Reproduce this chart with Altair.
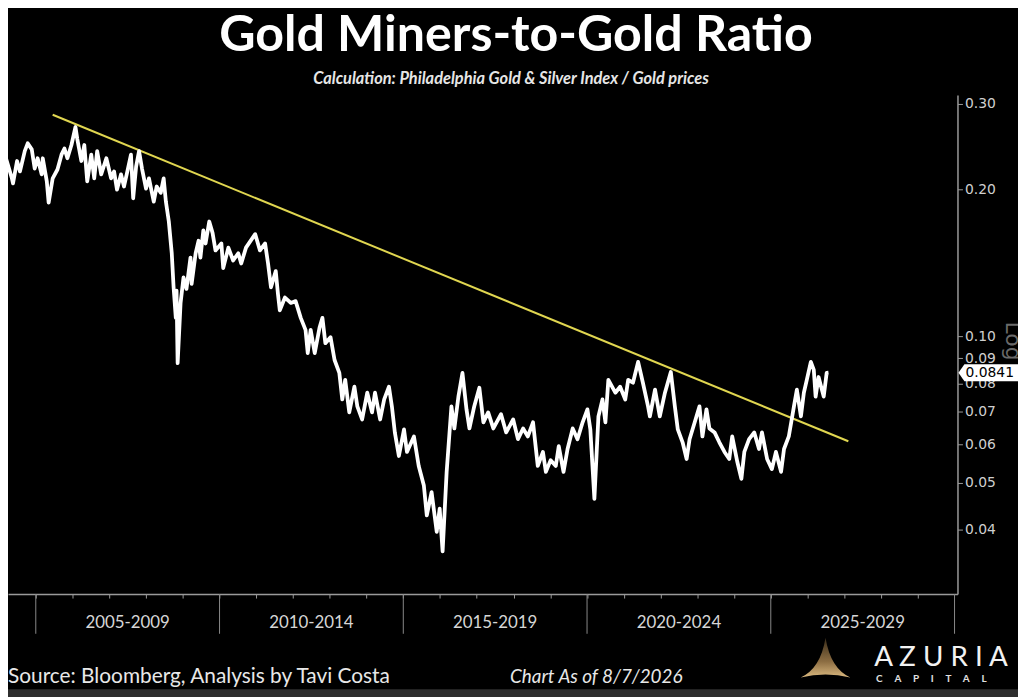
import altair as alt
import pandas as pd

# ---------------- data ----------------
years = [2004.08, 2004.16, 2004.35, 2004.38, 2004.49, 2004.57, 2004.70, 2004.78, 2004.89, 2004.97,
         2005.05, 2005.16, 2005.19, 2005.30, 2005.35, 2005.46, 2005.59, 2005.70, 2005.78, 2005.86, 2005.97,
         2006.08, 2006.13, 2006.24, 2006.32, 2006.40, 2006.51, 2006.59, 2006.67, 2006.78, 2006.92,
         2007.05, 2007.13, 2007.21, 2007.32, 2007.40, 2007.48, 2007.59, 2007.65, 2007.73, 2007.81, 2007.89,
         2008.00, 2008.08, 2008.21, 2008.29, 2008.40, 2008.48, 2008.54, 2008.62, 2008.70, 2008.75, 2008.81,
         2008.83, 2008.86, 2008.94,
         2009.02, 2009.10, 2009.21, 2009.24, 2009.35, 2009.43, 2009.48, 2009.56, 2009.62, 2009.72, 2009.81, 2009.89,
         2010.05, 2010.10, 2010.24, 2010.37, 2010.51, 2010.59, 2010.72, 2010.97,
         2011.10, 2011.24, 2011.32, 2011.40, 2011.53, 2011.59, 2011.64, 2011.78, 2011.94,
         2012.07, 2012.21, 2012.34, 2012.40, 2012.48, 2012.59, 2012.72, 2012.80, 2012.88,
         2013.02, 2013.13, 2013.26, 2013.34, 2013.42, 2013.53, 2013.67, 2013.75, 2013.88,
         2014.02, 2014.15, 2014.23, 2014.37, 2014.48, 2014.61, 2014.69, 2014.77, 2014.88,
         2015.02, 2015.10, 2015.29, 2015.42, 2015.56, 2015.64, 2015.77, 2015.91, 2015.99,
         2016.07, 2016.18, 2016.31, 2016.39, 2016.50, 2016.61, 2016.72, 2016.80, 2016.93,
         2017.07, 2017.18, 2017.31, 2017.45, 2017.66, 2017.80, 2017.99,
         2018.12, 2018.26, 2018.39, 2018.53, 2018.66, 2018.80, 2018.88,
         2019.01, 2019.15, 2019.23, 2019.36, 2019.47, 2019.61, 2019.74, 2019.88,
         2020.01, 2020.09, 2020.20, 2020.31, 2020.42, 2020.50, 2020.58, 2020.77, 2020.90,
         2021.04, 2021.12, 2021.25, 2021.39, 2021.52, 2021.66, 2021.71, 2021.85, 2021.98,
         2022.12, 2022.28, 2022.39, 2022.47, 2022.60, 2022.71, 2022.79, 2022.93,
         2023.06, 2023.14, 2023.25, 2023.33, 2023.47, 2023.60, 2023.74, 2023.87, 2023.95,
         2024.09, 2024.20, 2024.28, 2024.41, 2024.55, 2024.68, 2024.76, 2024.90,
         2025.03, 2025.14, 2025.28, 2025.36, 2025.49, 2025.63, 2025.71, 2025.82, 2025.90, 2025.98,
         2026.09, 2026.17, 2026.22, 2026.30, 2026.44, 2026.52, 2026.57]

ratio = [0.254, 0.236, 0.211, 0.206, 0.229, 0.218, 0.240, 0.249, 0.242, 0.221,
         0.232, 0.215, 0.232, 0.208, 0.188, 0.211, 0.220, 0.236, 0.243, 0.232, 0.247,
         0.269, 0.254, 0.229, 0.247, 0.208, 0.236, 0.211, 0.240, 0.215, 0.232,
         0.211, 0.218, 0.200, 0.215, 0.203, 0.216, 0.236, 0.192, 0.223, 0.240, 0.221,
         0.201, 0.211, 0.189, 0.203, 0.197, 0.211, 0.189, 0.172, 0.148, 0.126, 0.109, 0.124, 0.088, 0.117,
         0.132, 0.125, 0.145, 0.128, 0.148, 0.157, 0.145, 0.165, 0.155, 0.172, 0.163, 0.150,
         0.155, 0.138, 0.152, 0.143, 0.148, 0.141, 0.152, 0.162,
         0.150, 0.155, 0.141, 0.126, 0.136, 0.122, 0.113, 0.120, 0.117,
         0.118, 0.109, 0.103, 0.0923, 0.103, 0.0923, 0.104, 0.109, 0.0967,
         0.0995, 0.0893, 0.0840, 0.0741, 0.0813, 0.0697, 0.0787, 0.0717, 0.0674,
         0.0765, 0.0697, 0.0765, 0.0674, 0.0741, 0.0787, 0.0717, 0.0634, 0.0567,
         0.0643, 0.0578, 0.0622, 0.0541, 0.0493, 0.0428, 0.0478, 0.0396, 0.0442,
         0.0361, 0.0526, 0.0717, 0.0646, 0.0751, 0.0840, 0.0707, 0.0646, 0.0717,
         0.0783, 0.0665, 0.0697, 0.0646, 0.0691, 0.0634, 0.0674,
         0.0614, 0.0646, 0.0622, 0.0665, 0.0541, 0.0578, 0.0526,
         0.0556, 0.0541, 0.0594, 0.0526, 0.0586, 0.0646, 0.0614, 0.0665,
         0.0707, 0.0643, 0.0463, 0.0684, 0.0741, 0.0665, 0.0813, 0.0765, 0.0787,
         0.0741, 0.0813, 0.0802, 0.0885, 0.0802, 0.0717, 0.0684, 0.0776, 0.0684,
         0.0765, 0.0844, 0.0717, 0.0643, 0.0605, 0.0559, 0.0614, 0.0665,
         0.0717, 0.0622, 0.0707, 0.0646, 0.0634, 0.0605, 0.0578, 0.0559, 0.0622,
         0.0551, 0.0509, 0.0578, 0.0614, 0.0634, 0.0586, 0.0634, 0.0559,
         0.0533, 0.0578, 0.0526, 0.0586, 0.0622, 0.0717, 0.0776, 0.0684, 0.0765, 0.0813,
         0.0885, 0.0852, 0.0751, 0.0824, 0.0751, 0.0840, 0.0841]

trend_years = [2005.46, 2027.11]
trend_vals = [0.285, 0.0608]

y_ticks = [0.04, 0.05, 0.06, 0.07, 0.08, 0.09, 0.10, 0.20, 0.30]
year_ticks = list(range(2005, 2030))
period_edges = [2005, 2010, 2015, 2020, 2025, 2030]
period_mid = [2007.5, 2012.5, 2017.5, 2022.5, 2027.5]
period_labels = ["2005-2009", "2010-2014", "2015-2019", "2020-2024", "2025-2029"]
last_value = 0.0841

title_text = "Gold Miners-to-Gold Ratio"
subtitle_text = "Calculation: Philadelphia Gold & Silver Index / Gold prices"
source_text = "Source: Bloomberg, Analysis by Tavi Costa"
asof_text = "Chart As of 8/7/2026"
brand_text = "A Z U R I A"
brand_sub = "\u00a0\u00a0\u00a0\u00a0\u00a0".join("CAPITAL")

# ---------------- chart ----------------
W, H = 957, 503
xscale = alt.Scale(domain=[2004.244, 2030.08], nice=False, zero=False)
yscale = alt.Scale(type="log", domain=[0.0295, 0.3129], nice=False)

x_enc = alt.X("year:Q", scale=xscale,
              axis=alt.Axis(values=year_ticks, labels=False, title=None, grid=False,
                            tickSize=4, tickColor="#9a9a9a", domainColor="#9a9a9a",
                            domainWidth=1.5, tickWidth=1))
y_enc = alt.Y("ratio:Q", scale=yscale,
              axis=alt.Axis(orient="right", values=y_ticks, format=".2f", title=None, grid=False,
                            labelColor="#cfcfcf", labelFontSize=14, labelFont="DejaVu Sans",
                            tickSize=5, tickColor="#9a9a9a", domainColor="#9a9a9a",
                            domainWidth=1.5, labelPadding=2))

series = pd.DataFrame({"year": years, "ratio": ratio})
trend = pd.DataFrame({"year": trend_years, "ratio": trend_vals})

line = alt.Chart(series).mark_line(color="white", strokeWidth=3.8, clip=True,
                                   strokeJoin="round").encode(x=x_enc, y=y_enc)
trend_line = alt.Chart(trend).mark_line(color="#e0d650", strokeWidth=2).encode(x=x_enc, y=y_enc)

seps = alt.Chart(pd.DataFrame({"year": period_edges})).mark_rule(
    color="#8a8a8a", strokeWidth=1).encode(x=x_enc, y=alt.value(H), y2=alt.value(H + 40))

periods = alt.Chart(pd.DataFrame({"year": period_mid, "label": period_labels})).mark_text(
    font="Lato", fontSize=17, color="#d6d6d6", baseline="middle", align="center"
).encode(x=x_enc, y=alt.value(H + 29), text="label:N")

box_shape = "M -1 0 L -0.824 -0.25 L 1 -0.25 L 1 0.25 L -0.824 0.25 Z"
marker_df = pd.DataFrame({"ratio": [last_value]})
marker = alt.Chart(marker_df).mark_point(shape=box_shape, size=4624, filled=True,
                                         color="white", opacity=1).encode(
    x=alt.value(992), y=y_enc)
marker_text = alt.Chart(marker_df).mark_text(font="DejaVu Sans", fontSize=14, color="black",
                                             align="left", baseline="middle").encode(
    x=alt.value(965), y=y_enc, text=alt.Text("ratio:Q", format=".4f"))


def label(text, x, y, **kw):
    return alt.Chart(pd.DataFrame({"t": [text]})).mark_text(**kw).encode(
        x=alt.value(x), y=alt.value(y), text="t:N")


title = label(title_text, 512, -44, font="Lato", fontSize=50.5, fontWeight="bold",
              color="white", align="center", baseline="alphabetic")
subtitle = label(subtitle_text, 507, -11, font="Lato", fontSize=16.5, fontWeight="bold",
                 fontStyle="italic", color="#e6e6e6", align="center", baseline="alphabetic")
log_lbl = label("Log", 1013, 248, font="DejaVu Sans", fontSize=22, color="#6a6a6a",
                angle=90, align="center", baseline="middle")
source = label(source_text, 0, 593, font="Lato", fontSize=21, color="#e8e8e8",
               align="left", baseline="alphabetic")
asof = label(asof_text, 506, 593, font="Lato", fontSize=19, fontStyle="italic",
             color="#e8e8e8", align="left", baseline="alphabetic")
brand = label(brand_text, 873, 575, font="Lato", fontSize=28, color="#f2f2f2",
              align="left", baseline="alphabetic")
brand2 = label(brand_sub, 875, 592, font="Lato", fontSize=10, fontWeight="bold",
               color="#e0e0e0", align="left", baseline="alphabetic")

logo_shape = "M 0 -1 Q 0.25 0.55 1.25 1 Q 0 0.7 -1.25 1 Q -0.25 0.55 0 -1 Z"
logo = alt.Chart(pd.DataFrame({"t": [1]})).mark_point(
    shape=logo_shape, size=1600, filled=True, opacity=1, strokeWidth=0,
    fill=alt.LinearGradient(gradient="linear",
                            stops=[alt.GradientStop(color="#3a2d1a", offset=0),
                                   alt.GradientStop(color="#8c6d42", offset=0.6),
                                   alt.GradientStop(color="#d9b77e", offset=1)],
                            x1=0, x2=0, y1=0, y2=1)
).encode(x=alt.value(824), y=alt.value(567))

band = alt.Chart(pd.DataFrame({"t": [1]})).mark_rect(color="#2e2e2e").encode(
    x=alt.value(0), x2=alt.value(1018), y=alt.value(599), y2=alt.value(612))

chart = alt.layer(
    band, seps, periods, trend_line, line, marker, marker_text,
    title, subtitle, log_lbl, source, asof, brand, brand2, logo
).properties(
    width=W, height=H,
    padding={"left": 0, "top": 85, "right": 61, "bottom": 101},
    autosize=alt.AutoSizeParams(type="none"),
    background="black",
).configure_view(stroke=None)

chart.save("out.html", embed_options={"renderer": "svg", "actions": False})
